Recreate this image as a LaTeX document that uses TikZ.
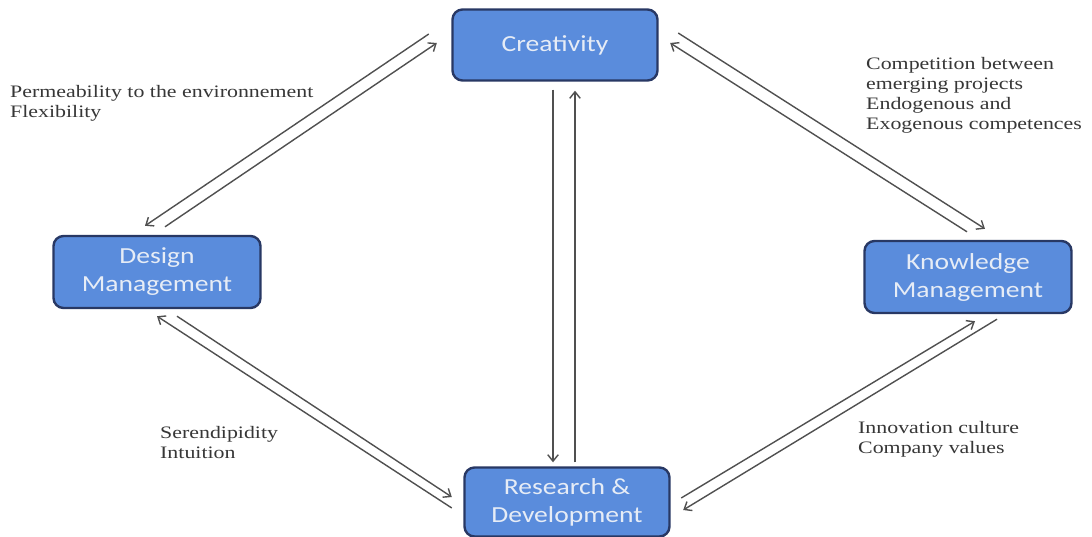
\documentclass[tikz,border=0pt]{standalone}
\usepackage{fontspec}
\setmainfont{Liberation Serif}[FakeStretch=1.25]
\newfontfamily\boxfont{Carlito}[FakeStretch=1.2]
\usetikzlibrary{arrows.meta}

\definecolor{boxfill}{RGB}{90,140,220}
\definecolor{boxline}{RGB}{40,56,100}
\definecolor{boxtext}{RGB}{230,236,246}
\definecolor{arrowgrey}{RGB}{80,80,80}
\definecolor{labelgrey}{RGB}{55,55,55}

\tikzset{
  block/.style={draw=boxline, line width=2.4pt, fill=boxfill, rounded corners=10pt,
    text=boxtext, align=center, inner sep=0pt,
    font=\boxfont\fontsize{23}{28}\selectfont},
  flow/.style={draw=arrowgrey, line width=1.4pt,
    -{Straight Barb[length=6.5pt,width=10.5pt,line width=1.4pt]}},
  note/.style={text=labelgrey, align=left, anchor=west, inner sep=0pt,
    font=\fontsize{17.5}{20}\selectfont}
}

\begin{document}
\begin{tikzpicture}[x=1pt,y=-1pt]
\useasboundingbox (0,0) rectangle (1092,536);
\fill[white] (0,0) rectangle (1092,536);

% the four blocks
\node[block, minimum width=205pt, minimum height=71pt] (cre) at (555,45) {Creativity};
\node[block, minimum width=207pt, minimum height=72pt] (dm) at (157,272) {Design\\Management};
\node[block, minimum width=205pt, minimum height=69pt] (rd) at (567,502) {Research \&\\Development};
\node[block, minimum width=207pt, minimum height=72pt] (km) at (968,277) {Knowledge\\Management};

% Creativity <-> Design Management
\draw[flow] ([shift={(-22.5,-11)}]cre.west) -- ([shift={(-12,-9)}]dm.north);
\draw[flow] ([shift={(8,-8)}]dm.north) -- ([shift={(-14.5,-2)}]cre.west);

% Creativity <-> Research & Development
\draw[flow] ([shift={(-2,8)}]cre.south) -- ([shift={(-14,-4)}]rd.north);
\draw[flow] ([shift={(8,-4)}]rd.north) -- ([shift={(20,9)}]cre.south);

% Creativity <-> Knowledge Management
\draw[flow] ([shift={(-1,-8)}]km.north) -- ([shift={(11.5,-2)}]cre.east);
\draw[flow] ([shift={(19.5,-12)}]cre.east) -- ([shift={(17,-11)}]km.north);

% Design Management <-> Research & Development
\draw[flow] ([shift={(-11.5,6)}]rd.west) -- ([shift={(0,7)}]dm.south);
\draw[flow] ([shift={(20,7)}]dm.south) -- ([shift={(-11.5,-5)}]rd.west);

% Research & Development <-> Knowledge Management
\draw[flow] ([shift={(10.5,-4)}]rd.east) -- ([shift={(7,7)}]km.south);
\draw[flow] ([shift={(29,5)}]km.south) -- ([shift={(12.5,8)}]rd.east);

% labels
\node[note] (lperm) at (10,103) {Permeability to the environnement\\Flexibility};
\node[note] (lcomp) at (866,95) {Competition between\\emerging projects\\Endogenous and\\Exogenous competences};
\node[note] (lsere) at (160,443) {Serendipidity\\Intuition};
\node[note] (linno) at (858,439) {Innovation culture\\Company values};
\end{tikzpicture}
\end{document}
